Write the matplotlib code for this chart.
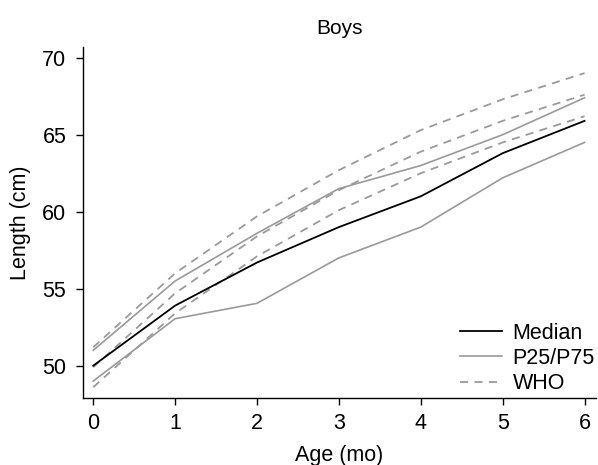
import matplotlib
matplotlib.use('Agg')
import matplotlib.pyplot as plt
from matplotlib.lines import Line2D

plt.rcParams['font.family'] = ['Liberation Sans', 'DejaVu Sans']

age = [0, 1, 2, 3, 4, 5, 6]
median = [50.0, 53.9, 56.7, 59.0, 61.0, 63.8, 65.9]
p25 = [49.0, 53.05, 54.05, 57.0, 59.0, 62.2, 64.5]
p75 = [51.0, 55.5, 58.6, 61.5, 63.0, 65.0, 67.4]
who_p25 = [48.6, 53.4, 57.1, 60.1, 62.5, 64.5, 66.2]
who_p50 = [49.9, 54.7, 58.4, 61.4, 63.9, 65.9, 67.6]
who_p75 = [51.2, 56.0, 59.7, 62.7, 65.3, 67.3, 69.0]

grey = '#9a9a9a'
dash = (0, (4.5, 3.5))
fs = 15.5

fig = plt.figure(figsize=(5.98, 4.65), dpi=100)
ax = fig.add_axes([0.1388, 0.1441, 0.8579, 0.7549])

for who in (who_p25, who_p50, who_p75):
    ax.plot(age, who, color=grey, lw=1.3, ls=dash)
ax.plot(age, p25, color=grey, lw=1.2)
ax.plot(age, p75, color=grey, lw=1.2)
ax.plot(age, median, color='black', lw=1.3)

ax.set_xlim(-0.125, 6.14)
ax.set_ylim(47.9, 70.7)
ax.set_xticks(age)
ax.set_yticks([50, 55, 60, 65, 70])
ax.spines['top'].set_visible(False)
ax.spines['right'].set_visible(False)
for s in ('left', 'bottom'):
    ax.spines[s].set_linewidth(1.0)
ax.tick_params(direction='out', length=5, width=1.0, labelsize=fs)
ax.tick_params(axis='y', pad=7)
ax.tick_params(axis='x', pad=6)

ax.set_title('Boys', fontsize=15, pad=9)
ax.set_xlabel('Age (mo)', fontsize=fs, labelpad=8)
ax.set_ylabel('Length (cm)', fontsize=fs, labelpad=8)

handles = [Line2D([], [], color='black', lw=1.3),
           Line2D([], [], color=grey, lw=1.2),
           Line2D([], [], color=grey, lw=1.3, ls=dash)]
fig.legend(handles, ['Median', 'P25/P75', 'WHO'], loc='upper left',
           bbox_to_anchor=(0.769, 0.306), frameon=False, fontsize=fs,
           borderpad=0, borderaxespad=0, handlelength=1.95,
           handletextpad=0.5, labelspacing=0.2)

fig.savefig('out.png', dpi=100)
